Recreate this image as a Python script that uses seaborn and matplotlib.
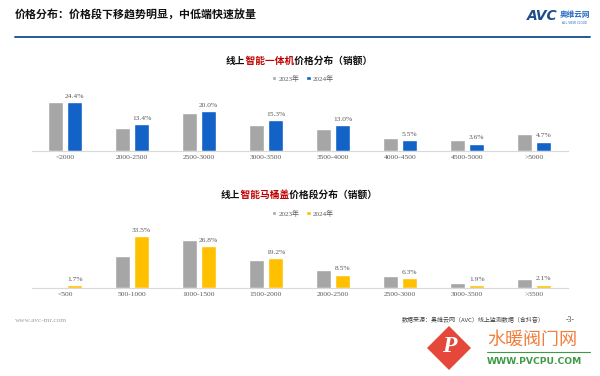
import pandas as pd
import matplotlib.pyplot as plt
import seaborn as sns
from matplotlib.patches import Polygon

# 智能一体机 price bands (sales share, %)
aio_bins = ["<2000", "2000-2500", "2500-3000", "3000-3500", "3500-4000", "4000-4500", "4500-5000", ">5000"]
aio_2023 = [24.3, 11.4, 18.9, 12.9, 11.0, 6.7, 5.7, 8.7]
aio_2024 = [24.4, 13.4, 20.0, 15.3, 13.0, 5.5, 3.6, 4.7]

# 智能马桶盖 price bands (sales share, %)
seat_bins = ["<500", "500-1000", "1000-1500", "1500-2000", "2000-2500", "2500-3000", "3000-3500", ">3500"]
seat_2023 = [0.4, 20.4, 31.2, 17.8, 11.8, 7.5, 3.4, 6.0]
seat_2024 = [1.7, 33.5, 26.8, 19.2, 8.5, 6.3, 1.9, 2.1]

years = ["2023年", "2024年"]
GRAY = "#A6A6A6"
BLUE = "#1262C8"
YELLOW = "#FFC000"
LABEL = "#595959"

sns.set_theme(style="white")
plt.rcParams['font.family'] = ['Noto Sans CJK SC', 'DejaVu Sans']
SERIF = ['Liberation Serif', 'Noto Sans CJK SC']

W, H = 600, 376
fig = plt.figure(figsize=(6, 3.76), dpi=100)
renderer = fig.canvas.get_renderer()


def px(x0, y0, x1, y1):
    # pixel box (top-left origin) -> figure fraction rect
    return [x0 / W, 1 - y1 / H, (x1 - x0) / W, (y1 - y0) / H]


def bar_chart(ax, bins, v23, v24, color, ymax, legend_y):
    df = pd.DataFrame({
        "band": bins * 2,
        "year": [years[0]] * len(bins) + [years[1]] * len(bins),
        "share": v23 + v24,
    })
    sns.barplot(data=df, x="band", y="share", hue="year", palette=[GRAY, color],
                width=0.58, gap=0.23, ax=ax, saturation=1)
    ax.bar_label(ax.containers[1], labels=[f"{v:.1f}%" for v in v24], padding=2.5,
                 fontsize=5.4, color=LABEL, family=SERIF)
    ax.set_ylim(0, ymax)
    ax.set_xlim(-0.5, len(bins) - 0.5)
    ax.set_xlabel("")
    ax.set_ylabel("")
    ax.set_yticks([])
    ax.tick_params(axis="x", length=0, pad=3, labelsize=5.4, labelcolor=LABEL)
    for t in ax.get_xticklabels():
        t.set_family(SERIF)
    for s in ["top", "left", "right"]:
        ax.spines[s].set_visible(False)
    ax.spines["bottom"].set_color("#D9D9D9")
    ax.spines["bottom"].set_linewidth(0.8)
    ax.patch.set_alpha(0)
    sns.move_legend(ax, "center", bbox_to_anchor=(0.5065, legend_y), ncol=2, frameon=False,
                    title=None, handlelength=0.6, handleheight=0.6,
                    handletextpad=0.3, columnspacing=1.0, labelcolor=LABEL,
                    prop={"family": SERIF, "size": 5.0})


def mixed_title(y, parts, fs=7.0, cx=299):
    # all pieces share one left anchor; ideographic spaces keep the full-width glyphs aligned
    full = "".join(p for p, _ in parts)
    probe = fig.text(0, 0, full, fontsize=fs, fontweight="bold")
    x0 = cx - probe.get_window_extent(renderer).width / 2
    probe.remove()
    lead = 0
    for txt, col in parts:
        fig.text(x0 / W, 1 - y / H, "\u3000" * lead + txt, fontsize=fs, fontweight="bold",
                 color=col, ha="left", va="center")
        lead += len(txt)


# top chart: baseline y=151, 2 px per %
ax1 = fig.add_axes(px(31.5, 91, 567.5, 151))
bar_chart(ax1, aio_bins, aio_2023, aio_2024, BLUE, 30, (151 - 78) / 60)

# bottom chart: baseline y=288, 1.55 px per %
ax2 = fig.add_axes(px(31.5, 226, 567.5, 288))
bar_chart(ax2, seat_bins, seat_2023, seat_2024, YELLOW, 40, (288 - 213) / 62)

mixed_title(61, [("线上", "#111111"), ("智能一体机", "#C00000"), ("价格分布（销额）", "#111111")])
mixed_title(195, [("线上", "#111111"), ("智能马桶盖", "#C00000"), ("价格段分布（销额）", "#111111")])

# page header
fig.text(15 / W, 1 - 15 / H, "价格分布：价格段下移趋势明显，中低端快速放量", fontsize=7.9,
         fontweight="bold", color="#111111", ha="left", va="center")
fig.add_artist(plt.Line2D([15 / W, 590 / W], [1 - 37 / H, 1 - 37 / H], color="#1F5C99", lw=1.4))
fig.text(527 / W, 1 - 16 / H, "AVC", fontsize=10, fontweight="bold", fontstyle="italic",
         color="#1F4E8C", ha="left", va="center", family="DejaVu Sans")
fig.text(560 / W, 1 - 14 / H, "奥维云网", fontsize=5.5, fontweight="bold", color="#2A6BC4",
         ha="left", va="center")
fig.text(562 / W, 1 - 23 / H, "ALL VIEW CLOUD", fontsize=2.2, color="#2A6BC4",
         ha="left", va="center", family="DejaVu Sans")

# footer
fig.text(15 / W, 1 - 320 / H, "www.avc-mr.com", fontsize=5.2, color="#A0A0A0",
         ha="left", va="center", family=SERIF)
fig.text(402 / W, 1 - 320 / H, "数据来源：奥维云网（AVC）线上监测数据（含抖音）", fontsize=4.3,
         color="#404040", ha="left", va="center")
fig.text(566 / W, 1 - 320 / H, "-3-", fontsize=5.5, color="#404040", ha="left", va="center",
         family=SERIF)

# site watermark, bottom right
cx, cy, r = 449, 348, 22
fig.add_artist(Polygon([(cx / W, 1 - (cy - r) / H), ((cx + r) / W, 1 - cy / H),
                        (cx / W, 1 - (cy + r) / H), ((cx - r) / W, 1 - cy / H)],
                       closed=True, transform=fig.transFigure, facecolor="#E5483A",
                       edgecolor="none"))
fig.text(cx / W, 1 - (cy - 2) / H, "P", fontsize=17, fontstyle="italic", fontweight="bold",
         color="white", ha="center", va="center", family="Liberation Serif")
fig.text(487 / W, 1 - 340 / H, "水暖阀门网", fontsize=13, color="#F07F3C", ha="left", va="center")
fig.add_artist(plt.Line2D([487 / W, 590 / W], [1 - 352 / H, 1 - 352 / H], color="#3E9B45", lw=0.8))
fig.text(487 / W, 1 - 362 / H, "WWW.PVCPU.COM", fontsize=6.6, fontweight="bold", color="#3E9B45",
         ha="left", va="center", family="DejaVu Sans")

fig.savefig("out.png", dpi=100)
